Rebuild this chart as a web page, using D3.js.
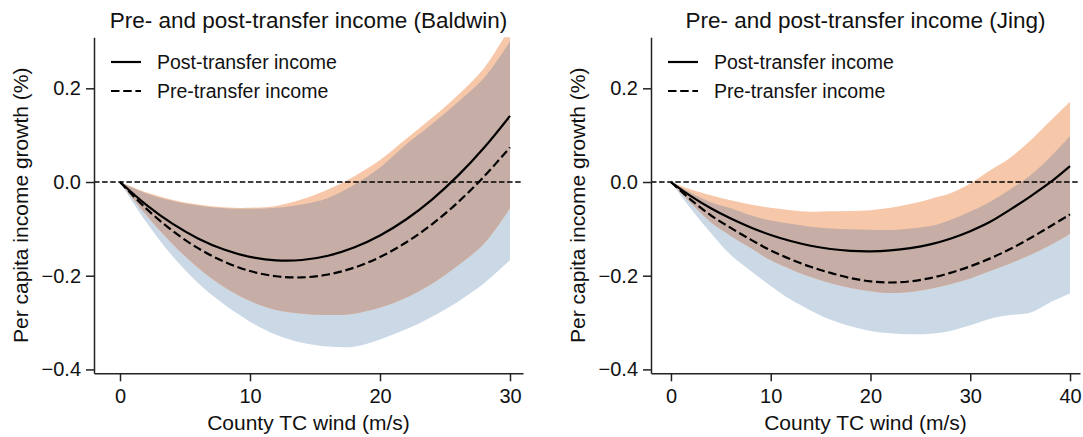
<!DOCTYPE html>
<html>
<head>
<meta charset="utf-8">
<script src="https://cdn.jsdelivr.net/npm/d3@7"></script>
<style>
  body { margin: 0; background: #fff; }
  svg { display: block; }
  text { font-family: "Liberation Sans", Arial, Helvetica, sans-serif; fill: #111; }
</style>
</head>
<body>
<svg id="chart" width="1083" height="437"></svg>
<script>
// Effect of county tropical-cyclone wind speed on per capita income growth (%)
// Estimates with confidence bands, for two wind-field models.

// ---- Baldwin wind field ----
const baldwinWind   = [0, 2, 4, 6, 8, 10, 12, 14, 16, 18, 20, 22, 24, 26, 28, 30];
const baldwinPost   = [0, -0.0482, -0.0884, -0.1204, -0.1442, -0.1599, -0.1673, -0.1665, -0.1573, -0.1399, -0.1141, -0.0800, -0.0374, 0.0136, 0.0731, 0.1411];
const baldwinPostLo = [0, -0.070, -0.131, -0.183, -0.224, -0.254, -0.273, -0.281, -0.284, -0.281, -0.268, -0.247, -0.217, -0.178, -0.132, -0.056];
const baldwinPostHi = [0, -0.022, -0.038, -0.048, -0.054, -0.055, -0.051, -0.037, -0.016, 0.012, 0.047, 0.092, 0.137, 0.186, 0.243, 0.330];
const baldwinPre    = [0, -0.0563, -0.1033, -0.1412, -0.1700, -0.1900, -0.2011, -0.2036, -0.1975, -0.1830, -0.1602, -0.1292, -0.0902, -0.0432, 0.0116, 0.0740];
const baldwinPreLo  = [0, -0.085, -0.157, -0.2155, -0.261, -0.298, -0.326, -0.343, -0.351, -0.3515, -0.336, -0.3145, -0.2874, -0.2554, -0.2163, -0.1665];
const baldwinPreHi  = [0, -0.024, -0.040, -0.050, -0.056, -0.057, -0.055, -0.048, -0.034, -0.006, 0.031, 0.080, 0.124, 0.171, 0.222, 0.300];

// ---- Jing wind field ----
const jingWind   = [0, 2, 4, 6, 8, 10, 12, 14, 16, 18, 20, 22, 24, 26, 28, 30, 32, 34, 36, 38, 40];
const jingPost   = [0, -0.030, -0.056, -0.078, -0.097, -0.113, -0.126, -0.136, -0.143, -0.147, -0.148, -0.146, -0.141, -0.133, -0.121, -0.105, -0.085, -0.059, -0.031, -0.001, 0.034];
const jingPostLo = [0, -0.045, -0.086, -0.115, -0.141, -0.167, -0.186, -0.203, -0.216, -0.226, -0.233, -0.237, -0.235, -0.228, -0.218, -0.206, -0.190, -0.174, -0.156, -0.135, -0.111];
const jingPostHi = [0, -0.016, -0.028, -0.039, -0.048, -0.055, -0.060, -0.0633, -0.0625, -0.062, -0.060, -0.055, -0.047, -0.036, -0.024, -0.003, 0.025, 0.052, 0.088, 0.130, 0.1715];
const jingPre    = [0, -0.038, -0.071, -0.098, -0.123, -0.146, -0.165, -0.181, -0.194, -0.205, -0.212, -0.2145, -0.212, -0.205, -0.194, -0.180, -0.163, -0.143, -0.120, -0.095, -0.069];
const jingPreLo  = [0, -0.057, -0.109, -0.156, -0.190, -0.222, -0.251, -0.274, -0.294, -0.308, -0.318, -0.323, -0.325, -0.324, -0.318, -0.306, -0.292, -0.284, -0.279, -0.257, -0.238];
const jingPreHi  = [0, -0.023, -0.043, -0.056, -0.071, -0.082, -0.089, -0.0955, -0.099, -0.101, -0.102, -0.1025, -0.099, -0.094, -0.081, -0.063, -0.042, -0.016, 0.014, 0.053, 0.098];

// ---- Axes and labels ----
const yTicks = [-0.4, -0.2, 0.0, 0.2];
const baldwinTicks = [0, 10, 20, 30];
const jingTicks = [0, 10, 20, 30, 40];
const seriesNames = ["Post-transfer income", "Pre-transfer income"];
const xLabel = "County TC wind (m/s)";
const yLabel = "Per capita income growth (%)";

const COLORS = { pre: "#cbd9e7", post: "#f6c8a9", both: "#c6ada5", line: "#000", axis: "#222" };

const svg = d3.select("#chart");
const plotTop = 37.3, plotBottom = 373.3;
const yDomain = [-0.4083, 0.3089];

const panels = [
  { id: "baldwin", title: "Pre- and post-transfer income (Baldwin)", range: [94, 523], domain: [-2, 31],
    ticks: baldwinTicks, wind: baldwinWind, post: baldwinPost, postLo: baldwinPostLo, postHi: baldwinPostHi,
    pre: baldwinPre, preLo: baldwinPreLo, preHi: baldwinPreHi },
  { id: "jing", title: "Pre- and post-transfer income (Jing)", range: [651, 1080], domain: [-2, 41],
    ticks: jingTicks, wind: jingWind, post: jingPost, postLo: jingPostLo, postHi: jingPostHi,
    pre: jingPre, preLo: jingPreLo, preHi: jingPreHi }
];

const smooth = d3.curveCatmullRom.alpha(0.5);

panels.forEach(p => {
  const x = d3.scaleLinear().domain(p.domain).range(p.range);
  const y = d3.scaleLinear().domain(yDomain).range([plotBottom, plotTop]);
  const g = svg.append("g");

  const rows = p.wind.map((w, i) => ({
    w, post: p.post[i], postLo: p.postLo[i], postHi: p.postHi[i],
    pre: p.pre[i], preLo: p.preLo[i], preHi: p.preHi[i]
  }));

  g.append("clipPath").attr("id", "clip-" + p.id)
    .append("rect")
    .attr("x", p.range[0]).attr("y", plotTop)
    .attr("width", p.range[1] - p.range[0]).attr("height", plotBottom - plotTop);

  const bands = g.append("g").attr("clip-path", `url(#clip-${p.id})`);
  const band = (lo, hi) => d3.area()
    .x(d => x(d.w)).y0(d => y(lo(d))).y1(d => y(hi(d)))
    .curve(smooth);

  bands.append("path").datum(rows).attr("fill", COLORS.pre)
    .attr("d", band(d => d.preLo, d => d.preHi));
  bands.append("path").datum(rows).attr("fill", COLORS.post)
    .attr("d", band(d => d.postLo, d => d.postHi));
  // region covered by both intervals
  bands.append("path").datum(rows).attr("fill", COLORS.both)
    .attr("d", band(d => Math.max(d.preLo, d.postLo), d => Math.min(d.preHi, d.postHi)));

  // zero reference
  g.append("line")
    .attr("x1", p.range[0]).attr("x2", p.range[1])
    .attr("y1", y(0)).attr("y2", y(0))
    .attr("stroke", COLORS.line).attr("stroke-width", 1.3)
    .attr("stroke-dasharray", "5.5,2.6");

  const curve = key => d3.line().x(d => x(d.w)).y(d => y(d[key])).curve(smooth);
  g.append("path").datum(rows).attr("fill", "none")
    .attr("stroke", COLORS.line).attr("stroke-width", 2.2)
    .attr("d", curve("post"));
  g.append("path").datum(rows).attr("fill", "none")
    .attr("stroke", COLORS.line).attr("stroke-width", 2.2)
    .attr("stroke-dasharray", "8.5,3.7")
    .attr("d", curve("pre"));

  // axes
  const xAxis = g.append("g").attr("transform", `translate(0,${plotBottom})`)
    .call(d3.axisBottom(x).tickValues(p.ticks).tickFormat(d3.format("d"))
      .tickSize(8).tickSizeOuter(0).tickPadding(8));
  const yAxis = g.append("g").attr("transform", `translate(${p.range[0]},0)`)
    .call(d3.axisLeft(y).tickValues(yTicks).tickFormat(d3.format(".1f"))
      .tickSize(8).tickSizeOuter(0).tickPadding(5));
  [xAxis, yAxis].forEach(a => {
    a.select(".domain").attr("stroke", COLORS.axis).attr("stroke-width", 1.5);
    a.selectAll(".tick line").attr("stroke", COLORS.axis).attr("stroke-width", 1.5);
    a.selectAll(".tick text").attr("fill", "#111").style("font-size", "20px")
      .style("font-family", '"Liberation Sans", Arial, sans-serif');
  });

  const cx = (p.range[0] + p.range[1]) / 2;
  g.append("text").attr("x", cx).attr("y", 28).attr("text-anchor", "middle")
    .style("font-size", "22.5px").text(p.title);
  g.append("text").attr("x", cx).attr("y", 430).attr("text-anchor", "middle")
    .style("font-size", "21px").text(xLabel);
  g.append("text")
    .attr("transform", `translate(${p.range[0] - 66.5},${(plotTop + plotBottom) / 2}) rotate(-90)`)
    .attr("text-anchor", "middle").style("font-size", "21px").text(yLabel);

  // legend
  const lx = p.range[0] + 17;
  seriesNames.forEach((name, i) => {
    const ly = 62 + i * 29;
    g.append("line").attr("x1", lx).attr("x2", lx + 30).attr("y1", ly).attr("y2", ly)
      .attr("stroke", COLORS.line).attr("stroke-width", 2.2)
      .attr("stroke-dasharray", i === 1 ? "8.5,3.7" : null);
    g.append("text").attr("x", lx + 46).attr("y", ly + 7)
      .style("font-size", "19.5px").text(name);
  });
});
</script>
</body>
</html>
